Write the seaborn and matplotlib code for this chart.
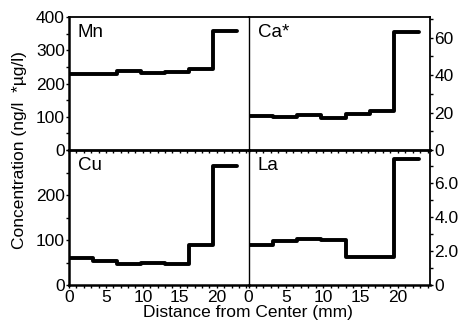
import numpy as np
import pandas as pd
import matplotlib
matplotlib.use("Agg")
import matplotlib.pyplot as plt
from matplotlib.ticker import MultipleLocator
import seaborn as sns

# bin edges (mm from center), last edge closes the final step
edges = [0, 3.25, 6.5, 9.75, 13.0, 16.25, 19.5, 22.8]

mn = [230, 229, 238, 231, 234, 244, 358]
ca = [18.1, 17.6, 18.8, 17.2, 19.2, 20.8, 62.9]
cu = [61, 54, 47, 48, 46, 89, 264]
la = [2.33, 2.6, 2.72, 2.65, 1.67, 1.67, 7.4]

labels = ["Mn", "Ca*", "Cu", "La"]

sns.set_style("ticks")
plt.rcParams["font.family"] = ["Liberation Sans", "DejaVu Sans"]
plt.rcParams["font.size"] = 12.5
for k in ["text.color", "axes.labelcolor", "xtick.color", "ytick.color"]:
    plt.rcParams[k] = "black"

fig = plt.figure(figsize=(4.58, 3.24), dpi=100)

x0, xm, x1 = 69 / 458, 248.5 / 458, 430 / 458
yt, ym, yb = 1 - 17 / 324, 1 - 150 / 324, 1 - 285 / 324

ax_cu = fig.add_axes([x0, yb, xm - x0, ym - yb])
ax_la = fig.add_axes([xm, yb, x1 - xm, ym - yb])
ax_mn = fig.add_axes([x0, ym, xm - x0, yt - ym])
ax_ca = fig.add_axes([xm, ym, x1 - xm, yt - ym])


def steps(vals):
    return pd.DataFrame({"x": edges, "y": list(vals) + [vals[-1]]})


for ax, vals, lab in zip([ax_mn, ax_ca, ax_cu, ax_la], [mn, ca, cu, la], labels):
    ax.patch.set_visible(False)
    sns.lineplot(data=steps(vals), x="x", y="y", ax=ax, color="black",
                 linewidth=2.8, drawstyle="steps-post", sort=False)
    ax.set_xlim(0, 24.3)
    ax.set_xlabel("")
    ax.set_ylabel("")
    ax.xaxis.set_major_locator(MultipleLocator(5))
    ax.xaxis.set_minor_locator(MultipleLocator(1))
    ax.tick_params(axis="x", which="both", direction="out", length=2.5, width=1)
    ax.text(0.05, 0.95, lab, transform=ax.transAxes, ha="left", va="top", fontsize=13.5)
    for s in ax.spines.values():
        s.set_color("black")

# top row: no x labels
for ax in [ax_mn, ax_ca]:
    ax.tick_params(axis="x", labelbottom=False)
    ax.spines["bottom"].set_linewidth(2.0)
    ax.spines["top"].set_visible(True)
    ax.spines["top"].set_linewidth(1.3)

for ax in [ax_cu, ax_la]:
    ax.spines["top"].set_visible(False)
    ax.spines["bottom"].set_linewidth(1.8)
    ax.tick_params(axis="x", pad=1.2)

# left column
for ax in [ax_mn, ax_cu]:
    ax.spines["right"].set_visible(False)
    ax.spines["left"].set_linewidth(1.8)
    ax.tick_params(axis="y", which="both", direction="out", length=2.5, width=1, pad=0.5)
    ax.yaxis.set_minor_locator(MultipleLocator(50))

ax_mn.set_ylim(0, 400)
ax_mn.set_yticks([0, 100, 200, 300, 400])
ax_cu.set_ylim(0, 300)
ax_cu.set_yticks([0, 100, 200])

# right column
for ax in [ax_ca, ax_la]:
    ax.spines["right"].set_visible(True)
    ax.spines["right"].set_linewidth(1.3)
    ax.spines["left"].set_linewidth(1.0)
    ax.yaxis.tick_right()
    ax.tick_params(axis="y", which="both", direction="out", length=2.5, width=1, pad=0.5)

ax_ca.set_ylim(0, 71)
ax_ca.set_yticks([0, 20, 40, 60])
ax_ca.yaxis.set_minor_locator(MultipleLocator(10))
ax_la.set_ylim(0, 7.95)
ax_la.set_yticks([0, 2, 4, 6])
ax_la.set_yticklabels(["0", "2.0", "4.0", "6.0"])
ax_la.yaxis.set_minor_locator(MultipleLocator(1))

fig.text(20 / 458, 1 - 150 / 324, "Concentration (ng/l  *µg/l)", rotation=90,
         ha="center", va="center", fontsize=12.5)
fig.text(248 / 458, 1 - 313 / 324, "Distance from Center (mm)",
         ha="center", va="center", fontsize=12.5)

fig.savefig("out.png", dpi=100)
